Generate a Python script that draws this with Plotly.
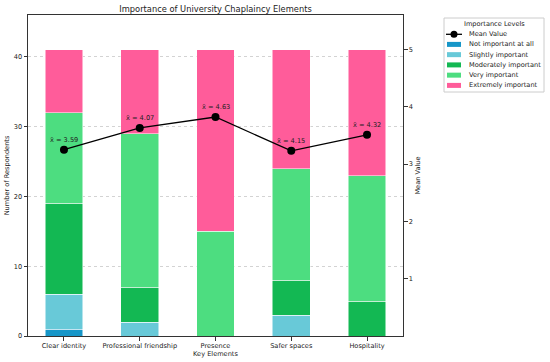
import plotly.graph_objects as go

categories = ["Clear identity", "Professional friendship", "Presence", "Safer spaces", "Hospitality"]
not_important = [1, 0, 0, 0, 0]
slightly_important = [5, 2, 0, 3, 0]
moderately_important = [13, 5, 0, 5, 5]
very_important = [13, 22, 15, 16, 18]
extremely_important = [9, 12, 26, 17, 18]
mean_positions = [3.25, 3.63, 3.82, 3.23, 3.51]
mean_labels = ["3.59", "4.07", "4.63", "4.15", "4.32"]

levels = [
    ("Not important at all", not_important, "#1696c8"),
    ("Slightly important", slightly_important, "#68c9d8"),
    ("Moderately important", moderately_important, "#13b853"),
    ("Very important", very_important, "#4ddd80"),
    ("Extremely important", extremely_important, "#ff5c9a"),
]

FONT = "DejaVu Sans"
TXT = "#222222"
W, H = 550, 362
L, R, T, B = 28, 403, 15, 336  # plot area in pixels


def px(x):
    return (x - L) / (R - L)


def py(y):
    return (B - y) / (B - T)


fig = go.Figure()
for name, vals, col in levels:
    fig.add_trace(go.Bar(
        x=categories, y=vals, name=name, width=0.5,
        marker=dict(color=col, line=dict(color="white", width=0.5)),
        showlegend=False,
    ))

fig.add_trace(go.Scatter(
    x=categories, y=mean_positions, name="Mean Value", yaxis="y2",
    mode="lines+markers",
    line=dict(color="black", width=1.3),
    marker=dict(color="black", size=8),
    showlegend=False,
))

for c, v, lab in zip(categories, mean_positions, mean_labels):
    fig.add_annotation(
        x=c, y=v, xref="x", yref="y2", text="x\u0304 = " + lab,
        showarrow=False, yanchor="bottom", yshift=4,
        font=dict(family=FONT, size=6.6, color=TXT),
    )

# ---- custom compact legend (matplotlib-like) ----
shapes = []
annos = []
shapes.append(dict(type="rect", xref="paper", yref="paper",
                   x0=px(444), x1=px(544), y0=py(92), y1=py(18),
                   line=dict(color="#cccccc", width=1), fillcolor="white", layer="above"))
annos.append(dict(xref="paper", yref="paper", x=px(494.5), y=py(24.5), text="Importance Levels",
                  showarrow=False, xanchor="center", yanchor="middle",
                  font=dict(family=FONT, size=6.6, color=TXT)))
# Mean Value entry
ym = 34.3
shapes.append(dict(type="line", xref="paper", yref="paper", x0=px(446), x1=px(462),
                   y0=py(ym), y1=py(ym), line=dict(color="black", width=1.3), layer="above"))
shapes.append(dict(type="circle", xref="paper", yref="paper", x0=px(450.5), x1=px(457.5),
                   y0=py(ym + 3.5), y1=py(ym - 3.5), fillcolor="black",
                   line=dict(color="black", width=0), layer="above"))
annos.append(dict(xref="paper", yref="paper", x=px(466.5), y=py(ym), text="Mean Value",
                  showarrow=False, xanchor="left", yanchor="middle",
                  font=dict(family=FONT, size=6.6, color=TXT)))
for i, (name, vals, col) in enumerate(levels):
    yy = 44.4 + i * 10.25
    shapes.append(dict(type="rect", xref="paper", yref="paper", x0=px(447), x1=px(461),
                       y0=py(yy + 2.5), y1=py(yy - 2.5), fillcolor=col,
                       line=dict(width=0), layer="above"))
    annos.append(dict(xref="paper", yref="paper", x=px(466.5), y=py(yy), text=name,
                      showarrow=False, xanchor="left", yanchor="middle",
                      font=dict(family=FONT, size=6.6, color=TXT)))

for a in annos:
    fig.add_annotation(**a)

axis_common = dict(showline=True, linecolor="#333333", linewidth=1,
                   ticks="outside", ticklen=3.5, tickcolor="#333333", tickwidth=0.8,
                   automargin=False, tickfont=dict(family=FONT, size=6.6, color=TXT))

fig.update_layout(
    width=W, height=H,
    margin=dict(l=L, r=W - R, t=T, b=H - B, autoexpand=False),
    barmode="stack",
    showlegend=False,
    shapes=shapes,
    plot_bgcolor="white", paper_bgcolor="white",
    font=dict(family=FONT, size=6.6, color=TXT),
    title=dict(text="Importance of University Chaplaincy Elements",
               x=(L + R) / 2 / W, xanchor="center", y=1 - 9 / H, yanchor="middle",
               font=dict(family=FONT, size=8.3, color=TXT)),
    xaxis=dict(
        range=[-0.475, 4.475], mirror=True,
        title=dict(text="Key Elements", standoff=1, font=dict(size=6.6)),
        showgrid=False, **axis_common,
    ),
    yaxis=dict(
        range=[0, 46], tickvals=[0, 10, 20, 30, 40],
        showgrid=True, gridcolor="#d3d3d3", griddash="dot", gridwidth=0.8,
        zeroline=False,
        title=dict(text="Number of Respondents", standoff=3, font=dict(size=6.6)),
        **axis_common,
    ),
    yaxis2=dict(
        overlaying="y", side="right", range=[0, 5.6], tickvals=[1, 2, 3, 4, 5],
        showgrid=False, zeroline=False,
        title=dict(text="Mean Value", standoff=3, font=dict(size=6.6)),
        **axis_common,
    ),
)

fig.write_html("out.html", config={"displayModeBar": False},
               post_script="document.body.style.margin='0';")
